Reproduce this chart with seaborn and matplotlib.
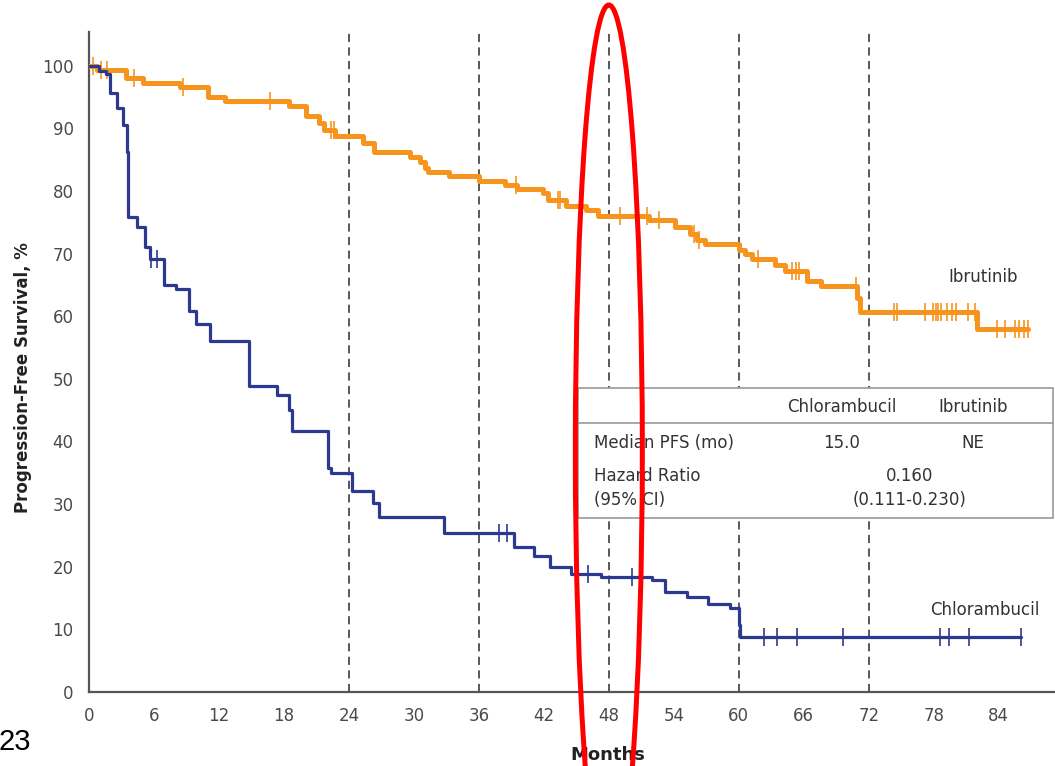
import numpy as np
import pandas as pd
import matplotlib
matplotlib.use("Agg")
import matplotlib.pyplot as plt
from matplotlib.patches import Ellipse, Rectangle
from matplotlib.lines import Line2D
import seaborn as sns

# Kaplan-Meier step data (months, % progression-free)
chl_time = [0, 0.9, 1.6, 1.9, 2.6, 3.1, 3.5, 3.6, 4.4, 5.2, 5.6, 6.9, 8.0, 9.2, 9.9,
            11.2, 14.8, 17.4, 18.5, 18.7, 22.1, 22.3, 24.3, 26.2, 26.8, 32.8, 39.2,
            41.1, 42.6, 44.5, 47.3, 52.0, 53.2, 55.2, 57.2, 59.2, 60.0, 60.1, 86.1]
chl_surv = [100, 99.2, 98.6, 95.7, 93.3, 90.5, 86.2, 75.9, 74.3, 71.1, 69.1, 65.0, 64.3,
            60.9, 58.8, 56.1, 48.9, 47.4, 45.0, 41.6, 35.7, 34.9, 32.1, 30.1, 28.0, 25.4,
            23.2, 21.7, 19.9, 18.8, 18.3, 17.9, 16.0, 15.1, 14.0, 13.4, 10.7, 8.8, 8.8]
chl_censor = [5.7, 6.3, 37.9, 38.6, 46.1, 50.1, 62.3, 63.5, 65.4, 69.6, 78.6, 79.4,
              81.3, 86.1]

ibr_time = [0, 0.7, 3.4, 5.0, 8.4, 11.0, 12.6, 18.5, 20.0, 21.2, 21.7, 22.7, 25.3,
            26.3, 29.6, 30.6, 31.0, 31.3, 33.2, 36.0, 38.4, 39.5, 41.9, 42.4, 44.0,
            45.9, 47.0, 51.7, 54.1, 55.5, 56.1, 56.9, 60.0, 60.6, 61.2, 63.3, 64.3,
            66.3, 67.6, 70.9, 71.2, 82.0, 86.7]
ibr_surv = [100, 99.3, 98.1, 97.3, 96.6, 95.0, 94.4, 93.5, 91.9, 90.8, 89.7, 88.8, 87.6,
            86.2, 85.5, 84.7, 83.6, 83.1, 82.4, 81.6, 80.9, 80.3, 79.6, 78.6, 77.6,
            77.0, 76.0, 75.3, 74.3, 73.2, 72.2, 71.6, 70.6, 69.9, 69.1, 68.2, 67.3,
            65.6, 64.8, 62.9, 60.7, 57.9, 57.9]
ibr_censor = [0.4, 1.1, 1.7, 4.2, 8.7, 16.7, 22.3, 22.6, 39.4, 43.3, 43.5, 49.0, 51.5,
              52.6, 55.9, 56.3, 61.8, 64.9, 65.3, 65.6, 70.8, 74.3, 74.6, 77.2, 77.9,
              78.2, 78.4, 78.7, 79.2, 79.7, 80.1, 81.2, 81.8, 83.8, 84.6, 85.5, 85.9,
              86.3, 86.7]

x_ticks = list(range(0, 85, 6))
y_ticks = list(range(0, 101, 10))
landmarks = [24, 36, 48, 60, 72]

table_header = ["Chlorambucil", "Ibrutinib"]
median_pfs = ["15.0", "NE"]
hazard_ratio = "0.160"
hazard_ci = "(0.111-0.230)"

ORANGE = "#F7941D"
NAVY = "#2B3990"
GREY = "#4a4a4a"

sns.set_theme(style="white")
plt.rcParams["font.family"] = ["DejaVu Sans"]

W, H = 1055, 766
fig = plt.figure(figsize=(W / 100, H / 100), dpi=100)
ax = fig.add_axes([89 / W, (H - 692) / H, (W - 89) / W, 660 / H])


def surv_at(times, surv, t):
    i = np.searchsorted(times, t, side="right") - 1
    return surv[i]


def arm_frame(times, surv, name):
    return pd.DataFrame({"month": times, "pfs": surv, "arm": name})


df_ibr = arm_frame(ibr_time, ibr_surv, "Ibrutinib")
df_chl = arm_frame(chl_time, chl_surv, "Chlorambucil")

for m in landmarks:
    ax.axvline(m, color=GREY, lw=1.3, ls=(0, (4.5, 3)), zorder=1)

sns.lineplot(data=df_ibr, x="month", y="pfs", drawstyle="steps-post", estimator=None,
             sort=False, color=ORANGE, lw=3.6, ax=ax, zorder=3)
sns.lineplot(data=df_chl, x="month", y="pfs", drawstyle="steps-post", estimator=None,
             sort=False, color=NAVY, lw=2.3, ax=ax, zorder=4)

ibr_cy = [surv_at(np.array(ibr_time), ibr_surv, t) for t in ibr_censor]
chl_cy = [surv_at(np.array(chl_time), chl_surv, t) for t in chl_censor]
sns.scatterplot(x=ibr_censor, y=ibr_cy, marker="|", s=150, color=ORANGE,
                linewidth=1.2, ax=ax, zorder=3)
sns.scatterplot(x=chl_censor, y=chl_cy, marker="|", s=170, color=NAVY,
                linewidth=1.2, ax=ax, zorder=4)

ax.set_xlim(0, (W - 89) / 10.83)
ax.set_ylim(0, 660 / 6.263)
ax.set_xticks(x_ticks)
ax.set_yticks(y_ticks)
ax.set_xlabel("")
ax.set_ylabel("")
for side in ["top", "right"]:
    ax.spines[side].set_visible(False)
for side in ["left", "bottom"]:
    ax.spines[side].set_color("#555555")
    ax.spines[side].set_linewidth(1.6)
ax.tick_params(axis="both", direction="out", length=5, width=1.3, color="#555555",
               labelsize=12, labelcolor=GREY, pad=6)

ax.text((983 - 89) / 10.83, (692 - 277) / 6.263, "Ibrutinib", ha="center",
        va="center", fontsize=12, color="#333333")
ax.text((985 - 89) / 10.83, (692 - 610) / 6.263, "Chlorambucil", ha="center",
        va="center", fontsize=12, color="#333333")


def fx(px):
    return px / W


def fy(py):
    return 1 - py / H


# Summary table
fig.add_artist(Rectangle((fx(578), fy(518)), fx(1053) - fx(578), fy(388) - fy(518),
                         transform=fig.transFigure, fc="white", ec="#9a9a9a", lw=1.2,
                         zorder=5))
fig.add_artist(Line2D([fx(578), fx(1053)], [fy(423), fy(423)], transform=fig.transFigure,
                      color="#9a9a9a", lw=1.2, zorder=6))
tkw = dict(fontsize=12, color="#333333", va="center", zorder=7)
fig.text(fx(842), fy(407), table_header[0], ha="center", **tkw)
fig.text(fx(973), fy(407), table_header[1], ha="center", **tkw)
fig.text(fx(594), fy(443), "Median PFS (mo)", ha="left", **tkw)
fig.text(fx(842), fy(443), median_pfs[0], ha="center", **tkw)
fig.text(fx(973), fy(443), median_pfs[1], ha="center", **tkw)
fig.text(fx(594), fy(476), "Hazard Ratio", ha="left", **tkw)
fig.text(fx(910), fy(476), hazard_ratio, ha="center", **tkw)
fig.text(fx(594), fy(500), "(95% CI)", ha="left", **tkw)
fig.text(fx(910), fy(500), hazard_ci, ha="center", **tkw)

# Landmark emphasis ring around 48 months, drawn above the table
fig.add_artist(Ellipse((48.0, (692 - 450) / 6.263), width=67 / 10.83, height=890 / 6.263,
                       transform=ax.transData, fill=False, ec="#FF0000", lw=3.6,
                       clip_on=False, zorder=10))

fig.text(fx(23), fy(378), "Progression-Free Survival, %", rotation=90, ha="center",
         va="center", fontsize=12, fontweight="bold", color="#222222")
fig.text(fx(608), fy(755), "Months", ha="center", va="center", fontsize=13,
         fontweight="bold", color="#222222")
fig.text(fx(-1), fy(742), "23", ha="left", va="center", fontsize=21, color="black",
         family="Liberation Sans")

fig.savefig("out.png", dpi=100, facecolor="white")
